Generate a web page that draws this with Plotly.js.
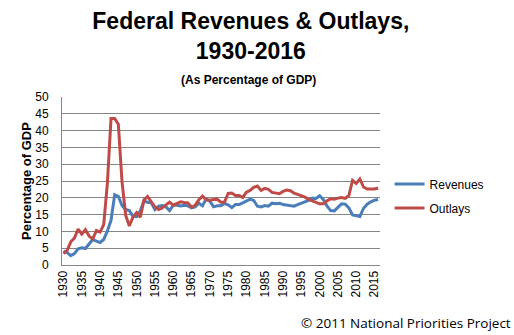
<!DOCTYPE html>
<html>
<head>
<meta charset="utf-8">
<script src="https://cdn.plot.ly/plotly-3.0.1.min.js"></script>
<style>
  html, body { margin: 0; padding: 0; background: #fff; }
  #chart { width: 514px; height: 335px; }
</style>
</head>
<body>
<div id="chart"></div>
<script>
const years = [];
for (let y = 1930; y <= 2016; y++) years.push(y);

const revenues = [
  4.1, 3.7, 2.8, 3.4, 4.8, 5.1, 4.9, 6.1, 7.6, 7.1,
  6.7, 7.6, 10.1, 13.3, 20.9, 20.4, 17.7, 16.5, 16.2, 14.5,
  14.4, 16.1, 19.0, 18.7, 18.5, 16.5, 17.5, 17.7, 17.3, 16.2,
  17.8, 17.8, 17.6, 17.8, 17.6, 17.0, 17.3, 18.4, 17.6, 19.7,
  19.0, 17.3, 17.6, 17.6, 18.3, 17.9, 17.1, 18.0, 18.0, 18.5,
  19.0, 19.6, 19.2, 17.5, 17.3, 17.7, 17.5, 18.4, 18.2, 18.4,
  18.0, 17.8, 17.5, 17.5, 18.0, 18.4, 18.8, 19.2, 19.9, 19.8,
  20.6, 19.5, 17.6, 16.2, 16.1, 17.3, 18.2, 18.1, 17.0, 14.9,
  14.7, 14.4, 16.9, 18.1, 18.8, 19.3, 19.5
];

const outlays = [
  3.4, 4.3, 6.9, 8.0, 10.7, 9.2, 10.5, 8.6, 7.7, 10.3,
  9.8, 12.0, 24.3, 43.6, 43.6, 41.9, 24.8, 14.8, 11.6, 14.3,
  15.6, 14.2, 19.4, 20.4, 18.8, 17.3, 16.5, 17.0, 17.9, 18.7,
  17.8, 18.4, 18.8, 18.6, 18.5, 17.2, 17.8, 19.4, 20.5, 19.4,
  19.3, 19.5, 19.6, 18.7, 18.7, 21.3, 21.4, 20.7, 20.7, 20.1,
  21.7, 22.2, 23.1, 23.5, 22.2, 22.8, 22.5, 21.6, 21.3, 21.2,
  21.9, 22.3, 22.1, 21.4, 21.0, 20.6, 20.2, 19.5, 19.1, 18.5,
  18.2, 18.2, 19.1, 19.7, 19.6, 19.9, 20.1, 19.8, 20.7, 25.2,
  24.3, 25.6, 23.2, 22.6, 22.6, 22.6, 22.9
];

const xTicks = [];
for (let y = 1930; y <= 2015; y += 5) xTicks.push(y);
const yTicks = [0, 5, 10, 15, 20, 25, 30, 35, 40, 45, 50];

const seriesNames = ['Revenues', 'Outlays'];
const seriesColors = ['#4A7EBB', '#BE4B48'];

const traces = [revenues, outlays].map((vals, i) => ({
  x: years,
  y: vals,
  type: 'scatter',
  mode: 'lines',
  name: seriesNames[i],
  legendgroup: 'g' + i,
  line: { color: seriesColors[i], width: 3 },
  hoverinfo: 'skip'
}));

const font = 'Liberation Sans, Arial, sans-serif';

const plotW = 514 - 62 - 134, plotH = 335 - 97 - 70;
function px(xp) { return (xp - 62) / plotW; }
function py(yp) { return (335 - 70 - yp) / plotH; }

const layout = {
  width: 514,
  height: 335,
  margin: { l: 62, r: 134, t: 97, b: 70, pad: 0 },
  paper_bgcolor: '#ffffff',
  plot_bgcolor: '#ffffff',
  font: { family: font, color: '#000' },
  showlegend: true,
  title: {
    text: '<b>Federal Revenues &amp; Outlays,<br>1930-2016</b>',
    font: { family: font, size: 23, color: '#000' },
    x: 0.488,
    xref: 'container',
    xanchor: 'center',
    y: 0.912,
    yref: 'container',
    yanchor: 'top'
  },
  xaxis: {
    range: [1929.6, 2016.5],
    tickmode: 'array',
    tickvals: xTicks,
    ticktext: xTicks.map(String),
    tickangle: -90,
    tickfont: { family: font, size: 12, color: '#000' },
    showgrid: false,
    zeroline: false,
    showline: true,
    linecolor: '#868686',
    linewidth: 1,
    ticks: '',
    fixedrange: true
  },
  yaxis: {
    range: [0, 50],
    tickmode: 'array',
    tickvals: yTicks,
    ticktext: yTicks.map(String),
    tickfont: { family: font, size: 12, color: '#000' },
    showgrid: true,
    gridcolor: '#868686',
    gridwidth: 1,
    zeroline: false,
    showline: true,
    linecolor: '#868686',
    linewidth: 1,
    ticks: '',
    ticklabelstandoff: 10,
    title: {
      text: '<b>Percentage of GDP</b>',
      font: { family: font, size: 13, color: '#000' },
      standoff: 0
    },
    fixedrange: true
  },
  legend: {
    x: 1.03,
    xanchor: 'left',
    y: py(196),
    yanchor: 'middle',
    font: { family: font, size: 12, color: '#000' },
    bgcolor: 'rgba(0,0,0,0)',
    traceorder: 'grouped',
    tracegroupgap: 5
  },
  annotations: [
    {
      text: '<b>(As Percentage of GDP)</b>',
      xref: 'paper', yref: 'paper',
      x: px(248), y: py(80),
      xanchor: 'center', yanchor: 'middle',
      showarrow: false,
      font: { family: font, size: 12, color: '#000' }
    },
    {
      text: '© 2011 National Priorities Project',
      xref: 'paper', yref: 'paper',
      x: px(513), y: py(323),
      xanchor: 'right', yanchor: 'middle',
      showarrow: false,
      font: { family: 'Open Sans, sans-serif', size: 13.5, color: '#000' }
    }
  ]
};

Plotly.newPlot('chart', traces, layout, { displayModeBar: false, staticPlot: true });
</script>
</body>
</html>
